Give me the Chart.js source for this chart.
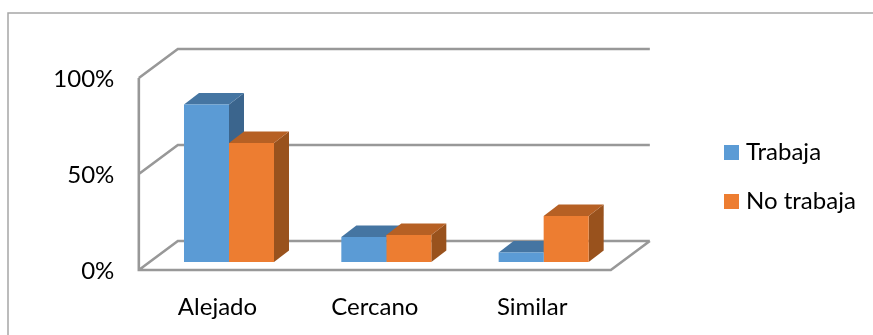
<!DOCTYPE html>
<html><head><meta charset="utf-8">
<script src="https://cdn.jsdelivr.net/npm/chart.js@4"></script>
<style>html,body{margin:0;padding:0;background:#fff;overflow:hidden}canvas{display:block}</style>
</head><body><canvas id="c" width="873" height="335"></canvas>
<script>
const categories = ['Alejado', 'Cercano', 'Similar'];
const trabaja = [82, 13, 5];
const noTrabaja = [62, 14, 24];
const yTicks = [0, 50, 100];

const front = { blue: '#5B9BD5', orange: '#ED7D31' };
const topFace = { blue: '#4575A2', orange: '#B66024' };
const sideFace = { blue: '#3B658D', orange: '#99521D' };
const GRID = '#989898';

function swatch(color) {
  const c = document.createElement('canvas');
  c.width = 15; c.height = 15;
  const g = c.getContext('2d');
  g.fillStyle = color;
  g.fillRect(0, 0, 15, 15);
  return c;
}
const swatches = [swatch(front.blue), swatch(front.orange)];

const depth3d = {
  id: 'depth3d',
  beforeLayout(chart) {
    const lg = chart.legend;
    if (lg && !lg._wrapped) {
      const f = lg.fit;
      lg.fit = function () { f.call(this); this.width = 873 - 622.33; };
      lg._wrapped = true;
    }
  },
  afterLayout(chart) {
    const lg = chart.legend;
    const pad = lg.options.labels.padding;
    lg.left = 729 - pad;
    lg.right = 873;
    lg.top = 140 - pad;
    lg.bottom = 335;
  },
  beforeDraw(chart) {
    const { ctx, chartArea: a, scales: { y } } = chart;
    ctx.save();
    ctx.strokeStyle = '#a6a6a6';
    ctx.lineWidth = 1.5;
    ctx.strokeRect(8, 13, 1000, 1000);
    ctx.strokeStyle = GRID;
    ctx.lineWidth = 2.6;
    const fl = a.left - 11.5, fr = a.right - 11.5, dx = 39, dy = -29, sy = 8;
    ctx.beginPath();
    yTicks.forEach(v => {
      const py = y.getPixelForValue(v) + sy;
      ctx.moveTo(fl, py);
      ctx.lineTo(fl + dx, py + dy);
      ctx.lineTo(fr + dx, py + dy);
    });
    const y0 = y.getPixelForValue(0) + sy, y1 = y.getPixelForValue(100) + sy;
    ctx.moveTo(fl, y1);
    ctx.lineTo(fl, y0);
    ctx.lineTo(fr, y0);
    ctx.lineTo(fr + dx, y0 + dy);
    ctx.stroke();
    ctx.restore();
  },
  beforeDatasetsDraw(chart) {
    const { ctx } = chart;
    const ox = 15, oy = -11.5;
    ctx.save();
    ['blue', 'orange'].forEach((key, di) => {
      chart.getDatasetMeta(di).data.forEach(b => {
        const l = b.x - b.width / 2, r = b.x + b.width / 2, t = b.y, bt = b.base;
        ctx.fillStyle = sideFace[key];
        ctx.beginPath();
        ctx.moveTo(r, t); ctx.lineTo(r + ox, t + oy); ctx.lineTo(r + ox, bt + oy); ctx.lineTo(r, bt);
        ctx.closePath(); ctx.fill();
        ctx.fillStyle = topFace[key];
        ctx.beginPath();
        ctx.moveTo(l, t); ctx.lineTo(l + ox, t + oy); ctx.lineTo(r + ox, t + oy); ctx.lineTo(r, t);
        ctx.closePath(); ctx.fill();
      });
    });
    ctx.restore();
  }
};

new Chart(document.getElementById('c'), {
  type: 'bar',
  data: {
    labels: categories,
    datasets: [
      { label: 'Trabaja', data: trabaja, backgroundColor: front.blue },
      { label: 'No trabaja', data: noTrabaja, backgroundColor: front.orange }
    ]
  },
  options: {
    responsive: false,
    animation: false,
    devicePixelRatio: 1,
    categoryPercentage: 90 / 157.33,
    barPercentage: 1,
    layout: { padding: { top: 70, right: 0, bottom: 0, left: 0 } },
    scales: {
      x: {
        grid: { display: false, drawTicks: false },
        border: { display: false },
        afterFit(s) { s.height = 73; },
        ticks: { color: '#000', padding: 31, labelOffset: -11.5, maxRotation: 0, font: { family: 'Lato', size: 24 } }
      },
      y: {
        min: 0, max: 100,
        grid: { display: false, drawTicks: false },
        border: { display: false },
        afterFit(s) { s.width = 150.33; },
        afterBuildTicks(s) { s.ticks = yTicks.map(v => ({ value: v })); },
        ticks: { color: '#000', padding: 36, labelOffset: 9, callback: v => v + '%', font: { family: 'Lato', size: 24 } }
      }
    },
    plugins: {
      tooltip: { enabled: false },
      legend: {
        position: 'right',
        align: 'start',
        labels: {
          color: '#000', boxWidth: 15, boxHeight: 15, padding: 25,
          usePointStyle: true, pointStyleWidth: 5,
          font: { family: 'Lato', size: 24 },
          generateLabels(chart) {
            return Chart.defaults.plugins.legend.labels.generateLabels(chart)
              .map((item, i) => Object.assign(item, { pointStyle: swatches[i] }));
          }
        }
      }
    }
  },
  plugins: [depth3d]
});
</script></body></html>
